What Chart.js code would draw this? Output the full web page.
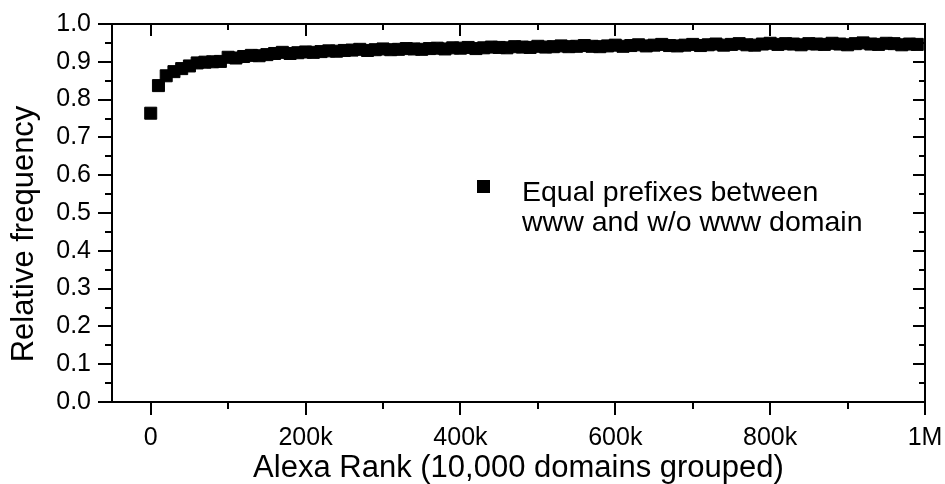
<!DOCTYPE html>
<html><head><meta charset="utf-8">
<script src="https://cdn.jsdelivr.net/npm/chart.js@4.4.0/dist/chart.umd.min.js"></script>
<style>html,body{margin:0;padding:0;background:#fff;}#wrap{width:945px;height:484px;}</style>
</head><body><div id="wrap"><canvas id="c" width="945" height="484"></canvas></div>
<script>
// Alexa rank (in thousands), one group per 10,000 domains
const ranksK = [0,10,20,30,40,50,60,70,80,90,100,110,120,130,140,150,160,170,180,190,
200,210,220,230,240,250,260,270,280,290,300,310,320,330,340,350,360,370,380,390,
400,410,420,430,440,450,460,470,480,490,500,510,520,530,540,550,560,570,580,590,
600,610,620,630,640,650,660,670,680,690,700,710,720,730,740,750,760,770,780,790,
800,810,820,830,840,850,860,870,880,890,900,910,920,930,940,950,960,970,980,990];
const freq = [0.764,0.837,0.863,0.874,0.882,0.889,0.897,0.899,0.900,0.901,
0.912,0.910,0.914,0.917,0.916,0.919,0.922,0.925,0.922,0.924,
0.926,0.925,0.927,0.929,0.928,0.930,0.931,0.933,0.930,0.932,
0.934,0.932,0.933,0.935,0.934,0.933,0.935,0.936,0.934,0.937,
0.936,0.938,0.935,0.937,0.939,0.938,0.937,0.940,0.939,0.938,
0.941,0.939,0.940,0.942,0.940,0.941,0.943,0.941,0.940,0.942,
0.944,0.941,0.943,0.945,0.942,0.944,0.946,0.943,0.942,0.944,
0.946,0.943,0.945,0.947,0.944,0.946,0.948,0.945,0.944,0.947,
0.949,0.946,0.948,0.947,0.945,0.948,0.947,0.946,0.949,0.947,
0.945,0.948,0.950,0.947,0.946,0.949,0.948,0.945,0.947,0.946];
const xTickValues = [0,200,400,600,800,1000];
const xTickLabels = ['0','200k','400k','600k','800k','1M'];
const xMinorValues = [100,300,500,700,900];
const yTickValues = [0,0.1,0.2,0.3,0.4,0.5,0.6,0.7,0.8,0.9,1.0];
const yTickLabels = ['0.0','0.1','0.2','0.3','0.4','0.5','0.6','0.7','0.8','0.9','1.0'];
const yMinorValues = [0.05,0.15,0.25,0.35,0.45,0.55,0.65,0.75,0.85,0.95];
const xTitle = 'Alexa Rank (10,000 domains grouped)';
const yTitle = 'Relative frequency';
const legendLines = ['Equal prefixes between','www and w/o www domain'];

const FONT = '"Liberation Sans", Arial, Helvetica, sans-serif';

const framePlugin = {
  id: 'frame',
  afterDatasetsDraw(chart) {
    const {ctx, chartArea: a, scales: {x, y}} = chart;
    ctx.save();
    ctx.strokeStyle = '#000';
    ctx.lineWidth = 2;
    ctx.beginPath();
    xTickValues.forEach(v => { const px = Math.round(x.getPixelForValue(v));
      ctx.moveTo(px, a.bottom); ctx.lineTo(px, a.bottom + 13);
      ctx.moveTo(px, a.top); ctx.lineTo(px, a.top + 12); });
    xMinorValues.forEach(v => { const px = Math.round(x.getPixelForValue(v));
      ctx.moveTo(px, a.bottom); ctx.lineTo(px, a.bottom + 7);
      ctx.moveTo(px, a.top); ctx.lineTo(px, a.top + 6); });
    yTickValues.forEach(v => { const py = Math.round(y.getPixelForValue(v));
      ctx.moveTo(a.left, py); ctx.lineTo(a.left - 14, py);
      ctx.moveTo(a.right, py); ctx.lineTo(a.right - 12, py); });
    yMinorValues.forEach(v => { const py = Math.round(y.getPixelForValue(v));
      ctx.moveTo(a.left, py); ctx.lineTo(a.left - 7, py);
      ctx.moveTo(a.right, py); ctx.lineTo(a.right - 6, py); });
    ctx.stroke();
    ctx.strokeRect(a.left, a.top, a.right - a.left, a.bottom - a.top);

    ctx.fillStyle = '#000';
    ctx.font = '31px ' + FONT;
    ctx.textAlign = 'center';
    ctx.textBaseline = 'alphabetic';
    ctx.fillText(xTitle, (a.left + a.right) / 2, 477);
    ctx.save();
    ctx.translate(33, 234);
    ctx.rotate(-Math.PI / 2);
    ctx.fillText(yTitle, 0, 0);
    ctx.restore();

    const ds = chart.data.datasets[0];
    ctx.fillStyle = ds.backgroundColor;
    ctx.fillRect(477, 180, 13, 13);
    ctx.font = '28.5px ' + FONT;
    ctx.textAlign = 'left';
    ctx.fillText(legendLines[0], 522, 201);
    ctx.fillText(legendLines[1], 522, 231);
    ctx.restore();
  }
};

new Chart(document.getElementById('c'), {
  type: 'scatter',
  data: {
    datasets: [{
      label: legendLines.join(' '),
      data: ranksK.map((r, i) => ({x: r, y: freq[i]})),
      pointStyle: 'rect',
      pointRadius: 8.5,
      pointHoverRadius: 8.5,
      backgroundColor: '#000',
      borderColor: '#000',
      borderWidth: 1
    }]
  },
  options: {
    responsive: false,
    animation: false,
    devicePixelRatio: 1,
    layout: {padding: {top: 24, right: 20, left: 0, bottom: 0}},
    plugins: {legend: {display: false}, tooltip: {enabled: false}},
    scales: {
      x: {
        type: 'linear', min: -50, max: 1000,
        afterBuildTicks: s => { s.ticks = xTickValues.map(v => ({value: v})); },
        afterFit: s => { s.height = 82; s.paddingLeft = 0; s.paddingRight = 0; },
        grid: {display: false, drawTicks: false},
        border: {display: false},
        ticks: {autoSkip: false, maxRotation: 0, padding: 21, color: '#000',
          font: {family: FONT, size: 25},
          callback: (v, i) => xTickLabels[i]}
      },
      y: {
        type: 'linear', min: 0, max: 1,
        afterBuildTicks: s => { s.ticks = yTickValues.map(v => ({value: v})); },
        afterFit: s => { s.width = 112; s.paddingTop = 0; s.paddingBottom = 0; },
        grid: {display: false, drawTicks: false},
        border: {display: false},
        ticks: {autoSkip: false, padding: 21, color: '#000',
          font: {family: FONT, size: 25},
          callback: (v, i) => yTickLabels[i]}
      }
    }
  },
  plugins: [framePlugin]
});
</script></body></html>
